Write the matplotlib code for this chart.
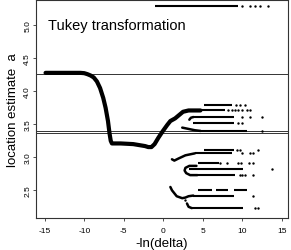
import matplotlib
matplotlib.use("Agg")
import matplotlib.pyplot as plt

plt.rcParams['font.family'] = ['Liberation Sans', 'DejaVu Sans']

# main path of the location estimate
main_x = [-14.9, -10.5, -10.0, -9.6, -9.2, -8.8, -8.4, -8.0, -7.6, -7.3, -7.0, -6.8,
          -6.65, -6.5, -5.4, -3.8, -2.3, -1.9, -1.5, -1.1, -0.6, -0.1, 0.5, 0.9,
          1.5, 2.0, 2.5, 3.2, 4.7]
main_y = [4.28, 4.28, 4.275, 4.26, 4.24, 4.21, 4.15, 4.05, 3.90, 3.75, 3.55, 3.36,
          3.25, 3.21, 3.21, 3.20, 3.17, 3.155, 3.155, 3.20, 3.30, 3.39, 3.49, 3.55,
          3.59, 3.64, 3.69, 3.71, 3.71]

# short curved pieces where side branches start
hook_c_x = [3.3, 3.5, 3.8]
hook_c_y = [3.57, 3.60, 3.61]
hook_e_x = [2.4, 3.2, 4.0, 4.7]
hook_e_y = [3.45, 3.43, 3.41, 3.40]
hook_f_x = [1.1, 1.4, 1.9, 2.8, 4.0]
hook_f_y = [2.97, 2.95, 2.98, 3.03, 3.06]
loop_x = [4.2, 3.3, 2.8, 2.7, 2.9, 3.4, 4.3]
loop_y = [2.87, 2.87, 2.84, 2.80, 2.76, 2.73, 2.73]
hook_l_x = [0.9, 1.1, 1.7, 2.4, 2.8, 3.2, 3.8]
hook_l_y = [2.55, 2.50, 2.41, 2.38, 2.39, 2.41, 2.42]
hook_n_x = [3.0, 3.2, 3.6]
hook_n_y = [2.30, 2.25, 2.23]

# dense horizontal runs of estimates
seg_y = [5.30, 3.79, 3.71, 3.61, 3.52, 3.40, 3.11, 3.06, 2.91, 2.83, 2.73,
         2.50, 2.50, 2.50, 2.42, 2.23]
seg_x0 = [-1.0, 5.1, 4.7, 3.8, 3.8, 4.7, 5.1, 4.0, 4.4, 3.3, 4.3,
          4.4, 6.7, 9.0, 3.8, 3.6]
seg_x1 = [9.4, 8.7, 7.8, 8.9, 8.9, 10.6, 8.9, 8.7, 7.0, 10.1, 9.1,
          6.2, 8.2, 10.6, 8.9, 10.1]

# isolated points to the right
dot_x = [10.0, 11.0, 11.6, 12.3, 13.3,
         9.2, 9.7, 10.3,
         8.2, 8.7, 9.1, 9.5, 10.0, 10.6, 11.0,
         10.0, 11.0, 12.5,
         9.4, 10.0,
         12.5,
         9.3, 9.7, 12.0,
         10.0, 11.0, 11.4,
         7.2, 8.1, 9.4, 9.8, 10.8, 11.3,
         13.8,
         9.7, 10.0, 10.4, 11.3,
         11.4,
         2.8,
         11.6, 12.0]
dot_y = [5.30] * 5 + [3.79] * 3 + [3.71] * 7 + [3.61] * 3 + [3.52] * 2 + [3.40] + \
        [3.11] * 3 + [3.06] * 3 + [2.91] * 6 + [2.83] + [2.73] * 4 + [2.42] + \
        [2.35] + [2.23] * 2

ref_lines = [4.27, 3.40, 3.37]
xticks = [-15, -10, -5, 0, 5, 10, 15]
yticks = [2.5, 3.0, 3.5, 4.0, 4.5, 5.0]

fig = plt.figure(figsize=(2.91, 2.51), dpi=100)
ax = fig.add_axes([0.124, 0.1275, 0.866, 0.87])

for y in ref_lines:
    ax.axhline(y, color='#333333', lw=0.7, zorder=1)

ax.plot(main_x, main_y, color='black', lw=3.0, solid_capstyle='round',
        solid_joinstyle='round', zorder=3)
for hx, hy in [(hook_c_x, hook_c_y), (hook_e_x, hook_e_y), (hook_f_x, hook_f_y),
               (loop_x, loop_y), (hook_l_x, hook_l_y), (hook_n_x, hook_n_y)]:
    ax.plot(hx, hy, color='black', lw=1.8, solid_capstyle='round',
            solid_joinstyle='round', zorder=3)

ax.hlines(seg_y, seg_x0, seg_x1, color='black', lw=1.5, zorder=3)
ax.scatter(dot_x, dot_y, s=3, color='black', linewidths=0, zorder=3)

ax.text(-14.6, 5.01, 'Tukey transformation', fontsize=10.5, ha='left', va='center')

ax.set_xlim(-16.1, 15.8)
ax.set_ylim(2.08, 5.39)
ax.set_xticks(xticks)
ax.set_yticks(yticks)
ax.set_xticklabels([str(t) for t in xticks])
ax.set_yticklabels([f'{t:.1f}' for t in yticks], rotation=90, va='center')
ax.tick_params(axis='both', labelsize=6, length=2.5, width=0.6, color='#333333')
ax.tick_params(axis='x', pad=4)
ax.tick_params(axis='y', pad=1)
for s in ax.spines.values():
    s.set_color('#333333')
    s.set_linewidth(0.8)

ax.set_xlabel('-ln(delta)', fontsize=9.5, labelpad=2)
ax.set_ylabel('location estimate  a', fontsize=9.5, labelpad=4)

fig.savefig('out.png', dpi=100)
